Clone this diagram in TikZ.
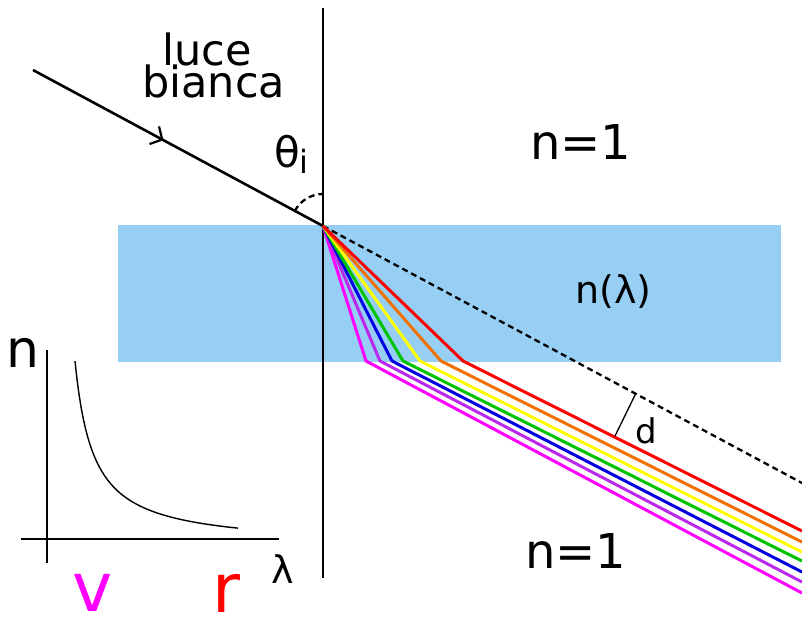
\documentclass[tikz,border=0pt]{standalone}
\usepackage{fontspec}
\setmainfont{DejaVu Sans}
\usetikzlibrary{arrows.meta,decorations.markings,calc}
\definecolor{slab}{RGB}{150,207,243}
\definecolor{rred}{RGB}{255,0,0}
\definecolor{rorange}{RGB}{240,112,0}
\definecolor{ryellow}{RGB}{255,255,0}
\definecolor{rgreen}{RGB}{0,195,0}
\definecolor{rblue}{RGB}{0,0,225}
\definecolor{rpurple}{RGB}{185,40,235}
\definecolor{rmagenta}{RGB}{255,0,255}
\newcommand\fsz[1]{\fontsize{#1}{#1}\selectfont}
\begin{document}
\begin{tikzpicture}[x=1pt,y=-1pt,txt/.style={anchor=base west,inner sep=0pt},
  dsh/.style={line width=2.3pt,dash pattern=on 6pt off 4pt}]
\useasboundingbox (0,0) rectangle (802,619);
\fill[slab](118,225) rectangle (781,362);
\coordinate (O) at (323,226);\coordinate (S) at (33,70);\coordinate (E) at (802,483);
\draw[line width=1.3pt](323,8)--(323,578);
\draw[dsh](O)--(E);
\draw[dsh]($(O)+(208:32)$) arc[start angle=208,end angle=270,radius=32];
\draw[line width=2.6pt,postaction={decorate},decoration={markings,
  mark=at position .45 with {\arrow{Straight Barb[length=9pt,width=20pt,line width=2.2pt]}}}](S)--(O);
\foreach \c/\bx/\ry in {rmagenta/366/593,rpurple/380/582,rblue/392/572,rgreen/403/561,ryellow/420/552,rorange/441/542,rred/463/531}{
  \draw[\c,line width=3pt,line join=miter](O)--(\bx,361)--(802,\ry);}
\draw[line width=1.3pt](615,436)--(636,393);
% inset n(lambda)
\draw[line width=1.8pt](47,350)--(47,563);\draw[line width=1.8pt](21,539)--(279,539);
\draw[line width=1.4pt] plot[domain=75:238,samples=80] (\x,{547-3422/(\x-56.6)});
\node[txt] (luce) at (162,65) {\fsz{43}luce};
\node[txt] (bianca) at (142,97) {\fsz{43}bianca};
\node[txt] (theta) at (274,167) {\fsz{42}θ\raisebox{-6pt}{\fsz{32}i}};
\node[txt] (ntop) at (530,159) {\fsz{48}n=1};
\node[txt] (nbot) at (525,568) {\fsz{48}n=1};
\node[txt] (nlam) at (575,303) {\fsz{38}n(λ)};
\node[txt] (dlab) at (635,443) {\fsz{34}d};
\node[txt] (nax) at (6,367) {\fsz{52}n};
\node[txt] (lax) at (271,583) {\fsz{38}λ};
\node[txt,rmagenta] (vlab) at (72,611) {\fsz{68}v};
\node[txt,rred] (rlab) at (212,612) {\fsz{68}r};
\end{tikzpicture}
\end{document}
